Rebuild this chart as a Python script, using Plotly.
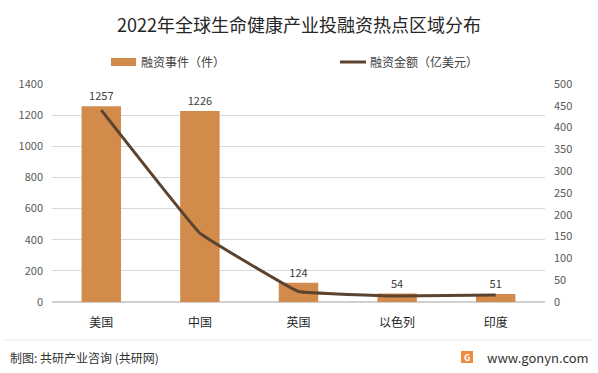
import plotly.graph_objects as go

categories = ["美国", "中国", "英国", "以色列", "印度"]
deal_counts = [1257, 1226, 124, 54, 51]
deal_amounts = [440, 158, 24, 14, 16]
left_ticks = [0, 200, 400, 600, 800, 1000, 1200, 1400]
right_ticks = [0, 50, 100, 150, 200, 250, 300, 350, 400, 450, 500]
series_names = ["融资事件（件）", "融资金额（亿美元）"]

FONT = "Noto Sans CJK SC"
BAR_COLOR = "#D38B4C"
LINE_COLOR = "#5B4330"

fig = go.Figure()
fig.add_trace(go.Bar(
    x=categories, y=deal_counts, name=series_names[0],
    marker=dict(color=BAR_COLOR, line=dict(width=0)),
    text=[str(v) for v in deal_counts], textposition="outside",
    textfont=dict(size=11, color="#404040", family=FONT),
    cliponaxis=False, yaxis="y",
))
fig.add_trace(go.Scatter(
    x=categories, y=deal_amounts, name=series_names[1],
    mode="lines", line=dict(color=LINE_COLOR, width=3, shape="spline", smoothing=0.2),
    yaxis="y2",
))

W, H = 598, 373
L, R, T, B = 52, 53, 84, 71
pw = W - L - R
ph = H - T - B

def py(pix):
    return (H - B - pix) / ph

def px(pix):
    return (pix - L) / pw

annotations = []

# faint watermarks (drawn first so real text sits on top)
wm = [(190, 125), (420, 95), (330, 170), (120, 215), (400, 215), (560, 175),
      (250, 290), (520, 300), (330, 350)]
for (wx, wy) in wm:
    annotations.append(dict(
        text="<b>共研产业咨询</b><br><span style='font-size:12px'>w w w . g o n y n . c o m</span>",
        x=px(wx), xref="paper", y=py(wy), yref="paper", showarrow=False, textangle=-10,
        font=dict(size=20, color="rgba(0,0,0,0.025)", family=FONT)))

annotations += [
    dict(text="2022年全球生命健康产业投融资热点区域分布", x=0.5, xref="paper",
         y=py(24), yref="paper", showarrow=False, xanchor="center", yanchor="middle",
         font=dict(size=18, color="#262626", family=FONT)),
    dict(text=series_names[0], x=px(139), xref="paper", y=py(62), yref="paper",
         showarrow=False, xanchor="left", yanchor="middle",
         font=dict(size=12, color="#404040", family=FONT)),
    dict(text=series_names[1], x=px(368), xref="paper", y=py(62), yref="paper",
         showarrow=False, xanchor="left", yanchor="middle",
         font=dict(size=12, color="#404040", family=FONT)),
    dict(text="制图: 共研产业咨询 (共研网)", x=px(8), xref="paper", y=py(357), yref="paper",
         showarrow=False, xanchor="left", yanchor="middle",
         font=dict(size=12, color="#333333", family=FONT)),
    dict(text="www.gonyn.com", x=px(591), xref="paper", y=py(357), yref="paper",
         showarrow=False, xanchor="right", yanchor="middle",
         font=dict(size=13, color="#333333", family=FONT)),
    dict(text="<b>G</b>", x=px(467), xref="paper", y=py(357), yref="paper",
         showarrow=False, xanchor="center", yanchor="middle",
         font=dict(size=9, color="white", family=FONT)),
]

shapes = [
    dict(type="line", xref="paper", yref="paper", x0=px(5), x1=px(592),
         y0=py(340), y1=py(340), line=dict(color="#E6E6E6", width=1)),
    dict(type="rect", xref="paper", yref="paper", x0=px(461), x1=px(473),
         y0=py(363), y1=py(351), line=dict(width=0), fillcolor="#F08A3C"),
    dict(type="rect", xref="paper", yref="paper", x0=px(111), x1=px(136),
         y0=py(66), y1=py(58), line=dict(width=0), fillcolor=BAR_COLOR),
    dict(type="line", xref="paper", yref="paper", x0=px(340), x1=px(366),
         y0=py(62), y1=py(62), line=dict(color=LINE_COLOR, width=3)),
]

fig.update_layout(
    width=W, height=H,
    margin=dict(l=L, r=R, t=T, b=B, autoexpand=False),
    paper_bgcolor="white", plot_bgcolor="white",
    font=dict(family=FONT, color="#595959"),
    bargap=0.6,
    showlegend=False,
    hovermode=False,
    xaxis=dict(showline=False, ticks="", tickfont=dict(size=12, color="#262626", family=FONT),
               showgrid=False, automargin=False, ticklabelstandoff=12),
    yaxis=dict(range=[0, 1400], tickvals=left_ticks, showgrid=True, gridcolor="#D9D9D9",
               gridwidth=1, zeroline=True, zerolinecolor="#D0D0D0", showline=False,
               tickfont=dict(size=11, color="#595959", family=FONT), ticks="",
               ticklabelstandoff=8, automargin=False),
    yaxis2=dict(range=[0, 500], tickvals=right_ticks, overlaying="y", side="right",
                showgrid=False, zeroline=False, showline=False,
                tickfont=dict(size=11, color="#595959", family=FONT), ticks="",
                ticklabelstandoff=8, automargin=False),
    annotations=annotations,
    shapes=shapes,
)

fig.write_html("out.html", config={"displayModeBar": False, "staticPlot": True},
               post_script="document.body.style.margin='0';document.body.style.overflow='hidden';")
